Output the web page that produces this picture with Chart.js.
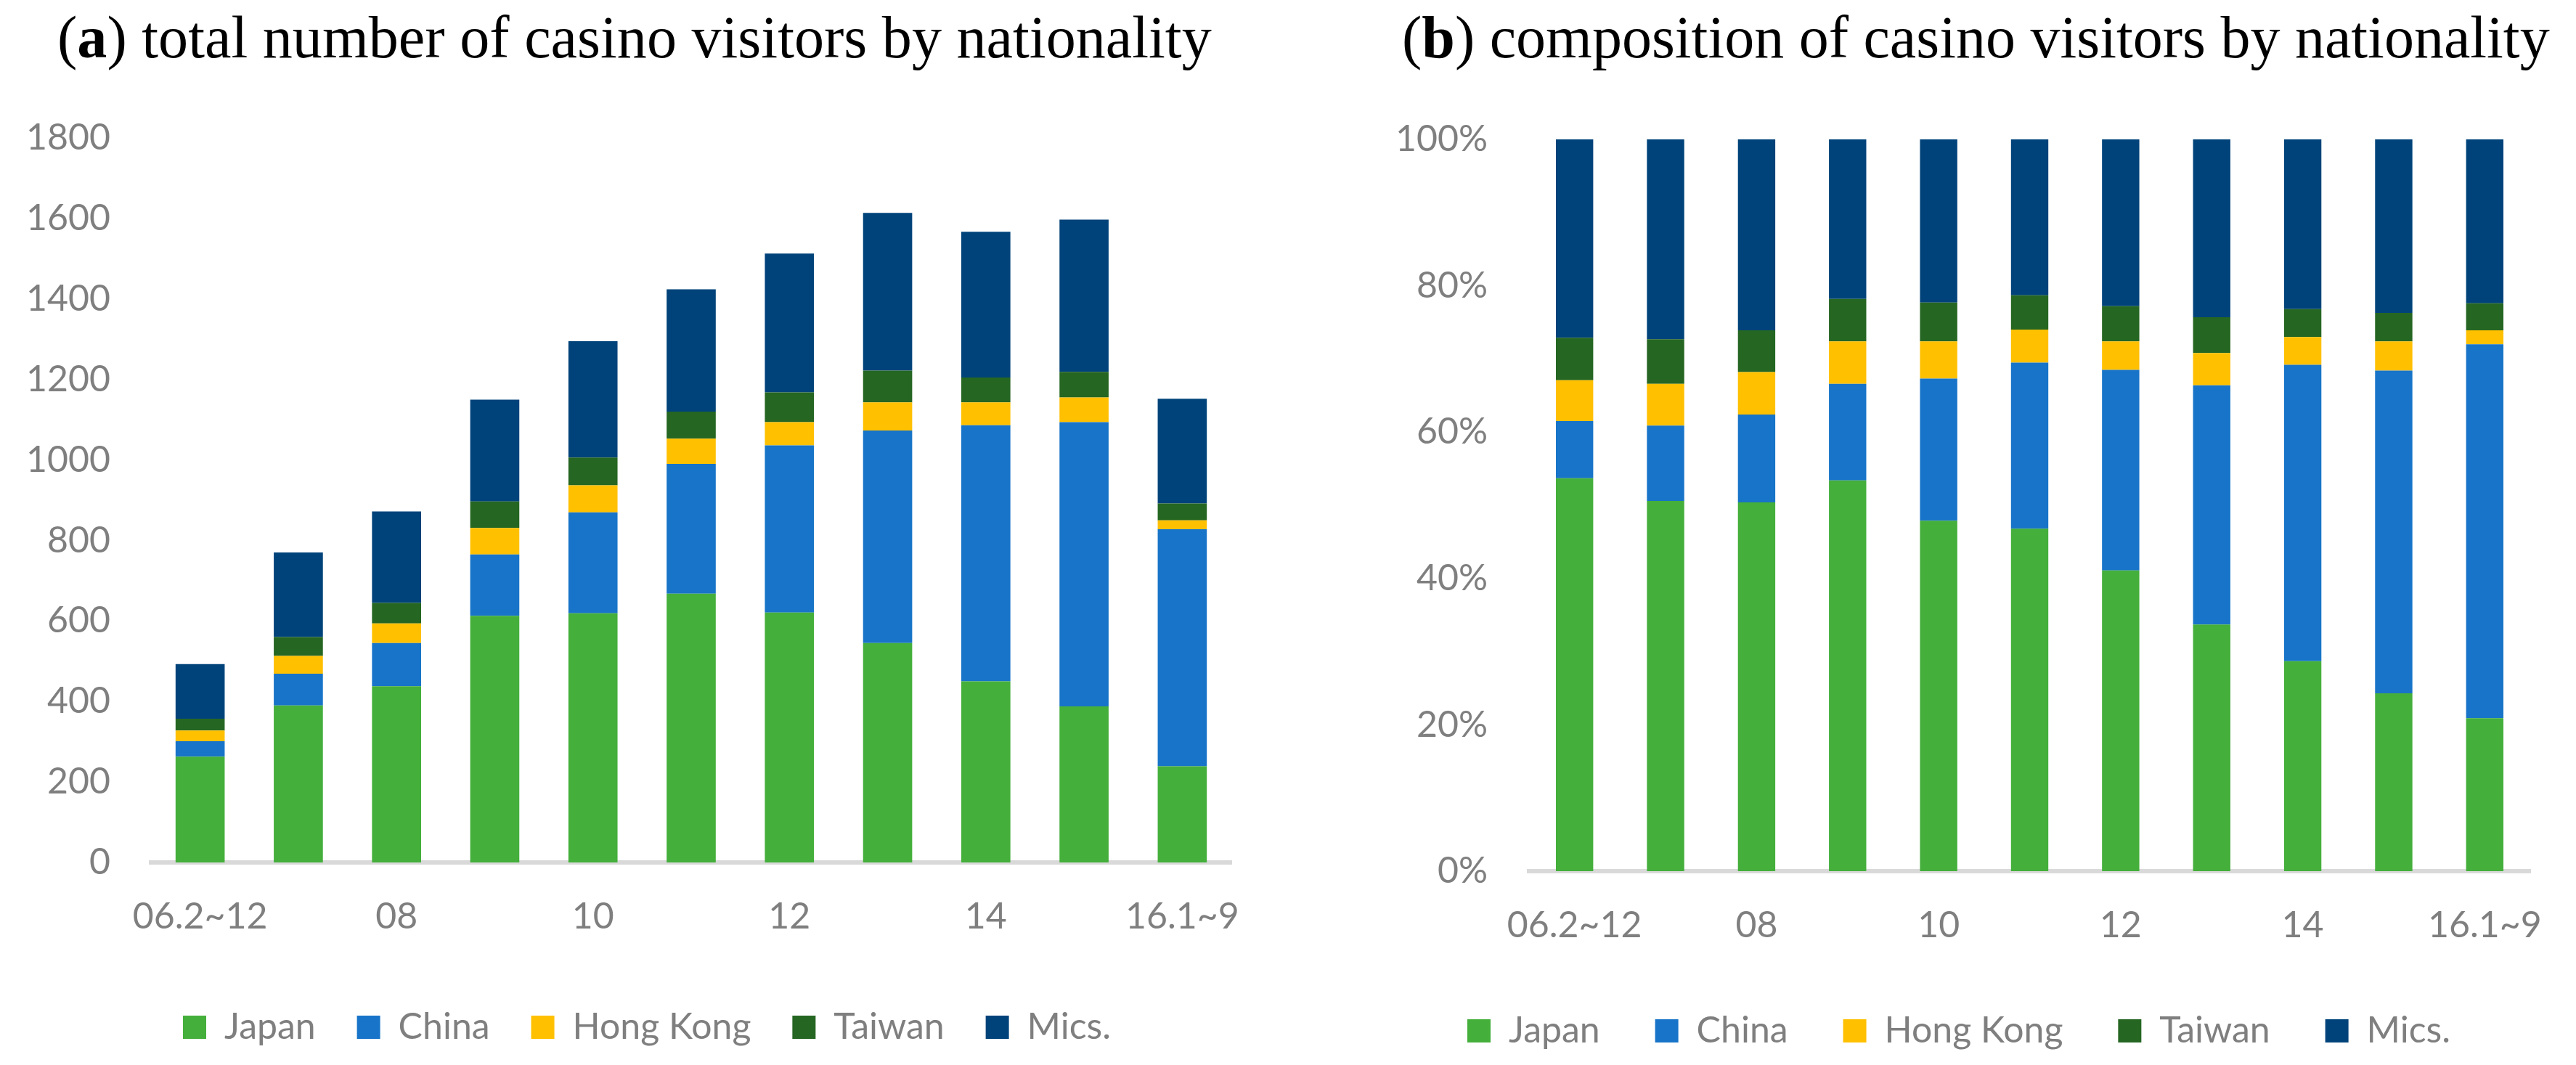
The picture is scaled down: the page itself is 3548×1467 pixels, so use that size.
<!DOCTYPE html>
<html>
<head>
<meta charset="utf-8">
<script src="https://cdn.jsdelivr.net/npm/chart.js@4/dist/chart.umd.min.js"></script>
<style>
  html, body { margin: 0; padding: 0; background: #ffffff; }
  body { width: 3548px; height: 1467px; position: relative; overflow: hidden; }
  canvas { position: absolute; top: 0; }
  .title { position: absolute; font-family: "Liberation Serif", "DejaVu Serif", serif; color: #000; white-space: nowrap; line-height: 1; }
</style>
</head>
<body>
<div id="titleA" class="title">(<b>a</b>) total number of casino visitors by nationality</div>
<div id="titleB" class="title">(<b>b</b>) composition of casino visitors by nationality</div>
<canvas id="chartA" width="1780" height="1467" style="left:0px"></canvas>
<canvas id="chartB" width="1698" height="1467" style="left:1850px"></canvas>
<script>
// ---- data ----
const categories = ['06.2~12','07','08','09','10','11','12','13','14','15','16.1~9'];
const seriesNames = ['Japan','China','Hong Kong','Taiwan','Mics.'];

// (a) totals (number of visitors)
const japan    = [263, 390, 438, 613, 619, 668, 621, 545, 450, 388, 239];
const china    = [38, 79, 107, 152, 251, 322, 415, 528, 636, 706, 589];
const hongKong = [27, 44, 49, 66, 67, 63, 58, 70, 57, 61, 22];
const taiwan   = [29, 47, 51, 66, 69, 67, 74, 79, 62, 64, 42];
const mics     = [136, 210, 227, 253, 289, 304, 345, 392, 362, 378, 260];

// (b) composition (%)
const japanShare    = [53.7, 50.6, 50.4, 53.4, 47.9, 46.8, 41.1, 33.7, 28.7, 24.3, 20.9];
const chinaShare    = [7.8, 10.3, 12.0, 13.2, 19.4, 22.7, 27.4, 32.7, 40.5, 44.1, 51.1];
const hongKongShare = [5.6, 5.7, 5.8, 5.8, 5.1, 4.5, 3.9, 4.4, 3.8, 4.0, 1.9];
const taiwanShare   = [5.8, 6.1, 5.7, 5.8, 5.3, 4.7, 4.8, 4.9, 3.8, 3.9, 3.7];
const micsShare     = [27.1, 27.3, 26.1, 21.8, 22.3, 21.3, 22.8, 24.3, 23.2, 23.7, 22.4];

const yTicksA = [0, 200, 400, 600, 800, 1000, 1200, 1400, 1600, 1800];
const yTicksB = [0, 20, 40, 60, 80, 100];

const colors = ['#44AF3B', '#1874C8', '#FFC000', '#256622', '#00437A'];

// ---- titles ----
function fitTitle(id, left, width, baseline) {
  const el = document.getElementById(id);
  let size = 70;
  el.style.fontSize = size + 'px';
  el.style.left = left + 'px';
  const w = el.getBoundingClientRect().width;
  size = size * width / w;
  el.style.fontSize = size + 'px';
  el.style.top = (baseline - 0.8375 * size) + 'px';
}
fitTitle('titleA', 79, 1590, 80);
fitTitle('titleB', 1931, 1581, 80);

const CANVAS_H = 1467;
const tickColor = '#7f7f7f';
const font = { family: 'Lato', size: 50 };
const BOX = 32;

// legend item spacing so the legend spans the requested width
function legendPadding(totalWidth) {
  const ctx = document.createElement('canvas').getContext('2d');
  ctx.font = font.size + 'px ' + font.family;
  let sum = 0;
  seriesNames.forEach(n => { sum += ctx.measureText(n).width + BOX + font.size / 2; });
  return Math.max(10, (totalWidth - sum) / (seriesNames.length - 1));
}

// moves the legend box horizontally so its first item starts at opts.startX
const legendShift = {
  id: 'legendShift',
  afterLayout(chart, args, opts) {
    const lg = chart.legend;
    if (!lg || !lg.lineWidths) return;
    const pad = lg.options.labels.padding;
    const start = (lg.left + pad + lg.right - lg.lineWidths[0]) / 2;
    const dx = opts.startX - start;
    lg.left += dx; lg.right += dx;
  }
};

function makeChart(id, sets, opts) {
  const pad = legendPadding(opts.legendWidth);
  const legendH = Math.max(font.size, BOX) + 10 + pad;
  const xHeight = CANVAS_H - opts.bottom - legendH - opts.plotBottom;
  const datasets = sets.map((d, i) => ({
    label: seriesNames[i],
    data: d,
    backgroundColor: colors[i],
    borderWidth: 0,
    categoryPercentage: 1.0,
    barPercentage: opts.barPct
  }));
  return new Chart(document.getElementById(id), {
    type: 'bar',
    data: { labels: categories, datasets },
    plugins: [legendShift],
    options: {
      responsive: false,
      animation: false,
      events: [],
      layout: { padding: { top: opts.top, right: opts.right, bottom: opts.bottom, left: 0 } },
      plugins: {
        legendShift: { startX: opts.legendStart },
        title: { display: false },
        tooltip: { enabled: false },
        legend: {
          position: 'bottom',
          labels: { boxWidth: BOX, boxHeight: BOX, padding: pad, color: tickColor, font: font }
        }
      },
      scales: {
        x: {
          stacked: true,
          grid: { display: true, drawOnChartArea: false, drawTicks: false, color: 'rgba(0,0,0,0)' },
          border: { display: true, color: '#d9d9d9', width: 6 },
          ticks: {
            color: tickColor, font: font, padding: 45, autoSkip: false, maxRotation: 0,
            callback: function (v, i) { return i % 2 === 0 ? categories[i] : ''; }
          },
          afterFit: s => { s.height = xHeight; }
        },
        y: {
          stacked: true,
          min: 0,
          max: opts.max,
          grid: { display: false, drawTicks: false },
          border: { display: false },
          afterBuildTicks: s => { s.ticks = opts.ticks.map(v => ({ value: v })); },
          ticks: {
            color: tickColor, font: font, padding: opts.yPad,
            callback: opts.fmt
          },
          afterFit: s => { s.width = opts.yWidth; }
        }
      }
    }
  });
}

makeChart('chartA', [japan, china, hongKong, taiwan, mics], {
  barPct: 0.5, top: 190, right: 84, bottom: 17, plotBottom: 1188,
  max: 1800, ticks: yTicksA, yPad: 56, yWidth: 208,
  legendStart: 252, legendWidth: 1278,
  fmt: v => String(v)
});
makeChart('chartB', [japanShare, chinaShare, hongKongShare, taiwanShare, micsShare], {
  barPct: 0.41, top: 192, right: 50, bottom: 12, plotBottom: 1200,
  max: 100, ticks: yTicksB, yPad: 57, yWidth: 256,
  legendStart: 171, legendWidth: 1354,
  fmt: v => v + '%'
});
</script>
</body>
</html>
